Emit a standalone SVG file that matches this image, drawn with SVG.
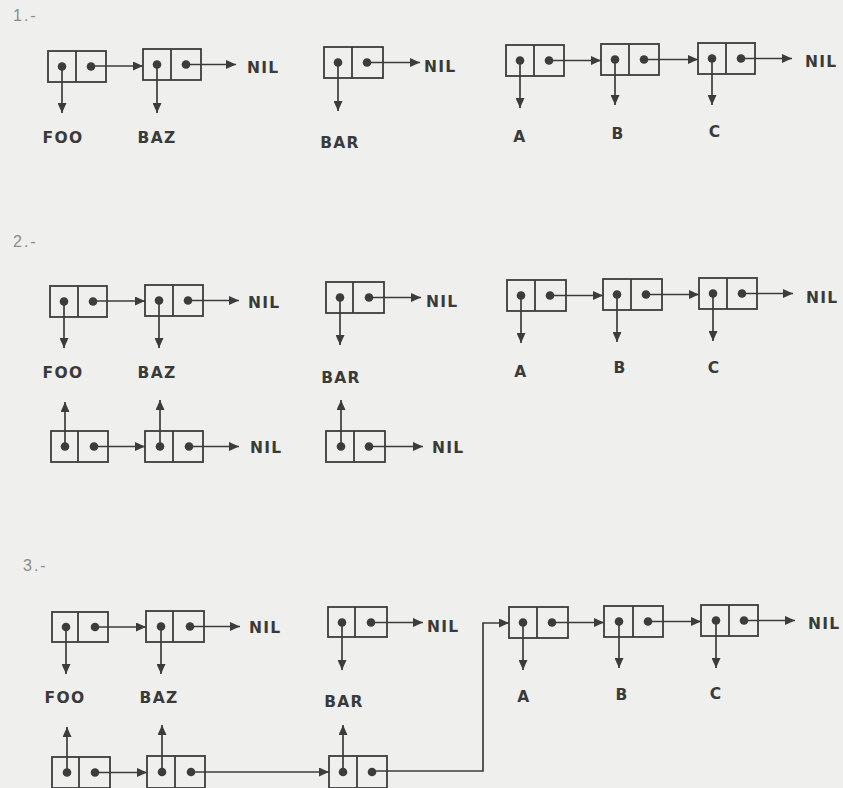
<svg xmlns="http://www.w3.org/2000/svg" width="843" height="788" viewBox="0 0 843 788">
<defs>
<style>
.cell rect{fill:none;stroke:#3c3c3c;stroke-width:1.8}
.cell line{stroke:#3c3c3c;stroke-width:1.8}
.cell circle{fill:#3c3c3c}
.conn line,.conn polyline{fill:none;stroke:#3c3c3c;stroke-width:1.7;marker-end:url(#ah)}
.lbl{font-family:"DejaVu Sans","Liberation Sans",sans-serif;font-weight:bold;font-size:15.5px;fill:#3a3a3a;letter-spacing:1.3px}
.sec{font-family:"Liberation Sans",sans-serif;font-size:16px;fill:#8c8c8c;letter-spacing:2px}
</style>
<marker id="ah" viewBox="0 0 10 9" refX="10" refY="4.5" markerWidth="10" markerHeight="9" markerUnits="userSpaceOnUse" orient="auto">
<path d="M0,0 L10,4.5 L0,9 z" fill="#3c3c3c"/>
</marker>
</defs>
<rect width="843" height="788" fill="#efefed"/>

<text class="sec" x="13" y="21">1.-</text>
<text class="sec" x="13" y="247">2.-</text>
<text class="sec" x="23" y="571">3.-</text>

<!-- Section 1 cells -->
<g id="s1-foo-cell" class="cell"><rect x="48" y="51" width="58" height="31"/><line x1="76" y1="51" x2="76" y2="82"/><circle cx="62" cy="66.5" r="4.3"/><circle cx="91" cy="66.5" r="4.3"/></g>
<g id="s1-baz-cell" class="cell"><rect x="143" y="49" width="58" height="31"/><line x1="171" y1="49" x2="171" y2="80"/><circle cx="157" cy="64.5" r="4.3"/><circle cx="186" cy="64.5" r="4.3"/></g>
<g id="s1-bar-cell" class="cell"><rect x="324" y="47" width="59" height="31"/><line x1="352" y1="47" x2="352" y2="78"/><circle cx="338" cy="62.5" r="4.3"/><circle cx="367" cy="62.5" r="4.3"/></g>
<g id="s1-a-cell" class="cell"><rect x="506" y="45" width="58" height="31"/><line x1="534" y1="45" x2="534" y2="76"/><circle cx="520" cy="60.5" r="4.3"/><circle cx="549" cy="60.5" r="4.3"/></g>
<g id="s1-b-cell" class="cell"><rect x="601" y="44" width="58" height="31"/><line x1="629" y1="44" x2="629" y2="75"/><circle cx="615" cy="59.5" r="4.3"/><circle cx="644" cy="59.5" r="4.3"/></g>
<g id="s1-c-cell" class="cell"><rect x="698" y="43" width="57" height="31"/><line x1="726" y1="43" x2="726" y2="74"/><circle cx="712" cy="58.5" r="4.3"/><circle cx="741" cy="58.5" r="4.3"/></g>

<g id="s1-labels">
<text class="lbl" x="247" y="73">NIL</text>
<text class="lbl" x="63" y="143" text-anchor="middle">FOO</text>
<text class="lbl" x="157" y="143" text-anchor="middle">BAZ</text>
<text class="lbl" x="424" y="72">NIL</text>
<text class="lbl" x="340" y="148" text-anchor="middle">BAR</text>
<text class="lbl" x="805" y="67">NIL</text>
<text class="lbl" x="520" y="142" text-anchor="middle">A</text>
<text class="lbl" x="618" y="139" text-anchor="middle">B</text>
<text class="lbl" x="715" y="137" text-anchor="middle">C</text>
</g>

<!-- Section 2 cells -->
<g id="s2-foo-cell" class="cell"><rect x="50" y="286" width="57" height="31"/><line x1="78" y1="286" x2="78" y2="317"/><circle cx="64" cy="301.5" r="4.3"/><circle cx="93" cy="301.5" r="4.3"/></g>
<g id="s2-baz-cell" class="cell"><rect x="145" y="285" width="58" height="31"/><line x1="173" y1="285" x2="173" y2="316"/><circle cx="159" cy="300.5" r="4.3"/><circle cx="188" cy="300.5" r="4.3"/></g>
<g id="s2-bar-cell" class="cell"><rect x="326" y="282" width="58" height="31"/><line x1="353" y1="282" x2="353" y2="313"/><circle cx="340" cy="297.5" r="4.3"/><circle cx="369" cy="297.5" r="4.3"/></g>
<g id="s2-a-cell" class="cell"><rect x="507" y="280" width="59" height="31"/><line x1="535" y1="280" x2="535" y2="311"/><circle cx="521" cy="295.5" r="4.3"/><circle cx="550" cy="295.5" r="4.3"/></g>
<g id="s2-b-cell" class="cell"><rect x="603" y="279" width="59" height="31"/><line x1="631" y1="279" x2="631" y2="310"/><circle cx="617" cy="294.5" r="4.3"/><circle cx="646" cy="294.5" r="4.3"/></g>
<g id="s2-c-cell" class="cell"><rect x="699" y="278" width="58" height="31"/><line x1="727" y1="278" x2="727" y2="309"/><circle cx="713" cy="293.5" r="4.3"/><circle cx="742" cy="293.5" r="4.3"/></g>
<g id="s2-copy1-cell" class="cell"><rect x="51" y="431" width="57" height="31"/><line x1="78" y1="431" x2="78" y2="462"/><circle cx="65" cy="446.5" r="4.3"/><circle cx="94" cy="446.5" r="4.3"/></g>
<g id="s2-copy2-cell" class="cell"><rect x="145" y="431" width="58" height="31"/><line x1="173" y1="431" x2="173" y2="462"/><circle cx="160" cy="446.5" r="4.3"/><circle cx="189" cy="446.5" r="4.3"/></g>
<g id="s2-copy3-cell" class="cell"><rect x="326" y="431" width="59" height="31"/><line x1="354" y1="431" x2="354" y2="462"/><circle cx="341" cy="446.5" r="4.3"/><circle cx="369" cy="446.5" r="4.3"/></g>

<g id="s2-labels">
<text class="lbl" x="248" y="308">NIL</text>
<text class="lbl" x="63" y="378" text-anchor="middle">FOO</text>
<text class="lbl" x="157" y="378" text-anchor="middle">BAZ</text>
<text class="lbl" x="426" y="307">NIL</text>
<text class="lbl" x="341" y="383" text-anchor="middle">BAR</text>
<text class="lbl" x="806" y="303">NIL</text>
<text class="lbl" x="521" y="377" text-anchor="middle">A</text>
<text class="lbl" x="620" y="373" text-anchor="middle">B</text>
<text class="lbl" x="714" y="373" text-anchor="middle">C</text>
<text class="lbl" x="250" y="453">NIL</text>
<text class="lbl" x="432" y="453">NIL</text>
</g>

<!-- Section 3 cells -->
<g id="s3-foo-cell" class="cell"><rect x="52" y="612" width="56" height="30"/><line x1="78" y1="612" x2="78" y2="642"/><circle cx="66" cy="627" r="4.3"/><circle cx="95" cy="627" r="4.3"/></g>
<g id="s3-baz-cell" class="cell"><rect x="146" y="611" width="58" height="31"/><line x1="173" y1="611" x2="173" y2="642"/><circle cx="161" cy="626.5" r="4.3"/><circle cx="190" cy="626.5" r="4.3"/></g>
<g id="s3-bar-cell" class="cell"><rect x="328" y="607" width="59" height="30"/><line x1="355" y1="607" x2="355" y2="637"/><circle cx="342" cy="622.5" r="4.3"/><circle cx="371" cy="622.5" r="4.3"/></g>
<g id="s3-a-cell" class="cell"><rect x="509" y="607" width="59" height="31"/><line x1="537" y1="607" x2="537" y2="638"/><circle cx="523" cy="622.5" r="4.3"/><circle cx="552" cy="622.5" r="4.3"/></g>
<g id="s3-b-cell" class="cell"><rect x="604" y="606" width="59" height="31"/><line x1="633" y1="606" x2="633" y2="637"/><circle cx="619" cy="621.5" r="4.3"/><circle cx="648" cy="621.5" r="4.3"/></g>
<g id="s3-c-cell" class="cell"><rect x="701" y="605" width="57" height="31"/><line x1="729" y1="605" x2="729" y2="636"/><circle cx="716" cy="620.5" r="4.3"/><circle cx="744" cy="620.5" r="4.3"/></g>
<g id="s3-copy1-cell" class="cell"><rect x="52" y="757" width="58" height="31"/><line x1="79" y1="757" x2="79" y2="788"/><circle cx="67" cy="772.5" r="4.3"/><circle cx="95" cy="772.5" r="4.3"/></g>
<g id="s3-copy2-cell" class="cell"><rect x="147" y="756" width="58" height="32"/><line x1="175" y1="756" x2="175" y2="788"/><circle cx="162" cy="772" r="4.3"/><circle cx="191" cy="772" r="4.3"/></g>
<g id="s3-copy3-cell" class="cell"><rect x="329" y="756" width="58" height="32"/><line x1="357" y1="756" x2="357" y2="788"/><circle cx="343" cy="772" r="4.3"/><circle cx="372" cy="772" r="4.3"/></g>

<g id="s3-labels">
<text class="lbl" x="249" y="633">NIL</text>
<text class="lbl" x="65" y="703" text-anchor="middle">FOO</text>
<text class="lbl" x="159" y="703" text-anchor="middle">BAZ</text>
<text class="lbl" x="427" y="632">NIL</text>
<text class="lbl" x="344" y="707" text-anchor="middle">BAR</text>
<text class="lbl" x="808" y="629">NIL</text>
<text class="lbl" x="524" y="702" text-anchor="middle">A</text>
<text class="lbl" x="622" y="700" text-anchor="middle">B</text>
<text class="lbl" x="716" y="699" text-anchor="middle">C</text>
</g>

<g id="connectors" class="conn">
<!-- section 1 -->
<line x1="91" y1="66" x2="143" y2="66"/>
<line x1="186" y1="64.5" x2="236" y2="64.5"/>
<line x1="62" y1="66.5" x2="62" y2="113"/>
<line x1="157" y1="64.5" x2="157" y2="113"/>
<line x1="367" y1="62.5" x2="420" y2="62.5"/>
<line x1="338" y1="62.5" x2="338" y2="111"/>
<line x1="549" y1="60.5" x2="601" y2="60.5"/>
<line x1="644" y1="59.5" x2="698" y2="59.5"/>
<line x1="741" y1="58.5" x2="792" y2="58.5"/>
<line x1="520" y1="60.5" x2="520" y2="108"/>
<line x1="615" y1="59.5" x2="615" y2="105"/>
<line x1="712" y1="58.5" x2="712" y2="105"/>
<!-- section 2 -->
<line x1="93" y1="301" x2="145" y2="301"/>
<line x1="188" y1="300.5" x2="239" y2="300.5"/>
<line x1="64" y1="301.5" x2="64" y2="348"/>
<line x1="159" y1="300.5" x2="159" y2="348"/>
<line x1="369" y1="297.5" x2="421" y2="297.5"/>
<line x1="340" y1="297.5" x2="340" y2="345"/>
<line x1="550" y1="295.5" x2="603" y2="295.5"/>
<line x1="646" y1="294.5" x2="699" y2="294.5"/>
<line x1="742" y1="293.5" x2="793" y2="293.5"/>
<line x1="521" y1="295.5" x2="521" y2="343"/>
<line x1="617" y1="294.5" x2="617" y2="342"/>
<line x1="713" y1="293.5" x2="713" y2="341"/>
<line x1="65" y1="446.5" x2="65" y2="402"/>
<line x1="160" y1="446.5" x2="160" y2="400"/>
<line x1="341" y1="446.5" x2="341" y2="400"/>
<line x1="94" y1="446.5" x2="145" y2="446.5"/>
<line x1="189" y1="446.5" x2="239" y2="446.5"/>
<line x1="369" y1="446.5" x2="423" y2="446.5"/>
<!-- section 3 -->
<line x1="95" y1="627" x2="146" y2="627"/>
<line x1="190" y1="626.5" x2="240" y2="626.5"/>
<line x1="66" y1="627" x2="66" y2="674"/>
<line x1="161" y1="626.5" x2="161" y2="674"/>
<line x1="371" y1="622.5" x2="423" y2="622.5"/>
<line x1="342" y1="622.5" x2="342" y2="670"/>
<line x1="552" y1="622.5" x2="604" y2="622.5"/>
<line x1="648" y1="621.5" x2="701" y2="621.5"/>
<line x1="744" y1="620.5" x2="795" y2="620.5"/>
<line x1="523" y1="622.5" x2="523" y2="670"/>
<line x1="619" y1="621.5" x2="619" y2="668"/>
<line x1="716" y1="620.5" x2="716" y2="668"/>
<line x1="67" y1="772.5" x2="67" y2="727"/>
<line x1="162" y1="772" x2="162" y2="725"/>
<line x1="343" y1="772" x2="343" y2="725"/>
<line x1="95" y1="772.5" x2="147" y2="772.5"/>
<line x1="191" y1="772" x2="329" y2="772"/>
<polyline points="372,771 483,771 483,623 509,623"/>
</g>
</svg>
